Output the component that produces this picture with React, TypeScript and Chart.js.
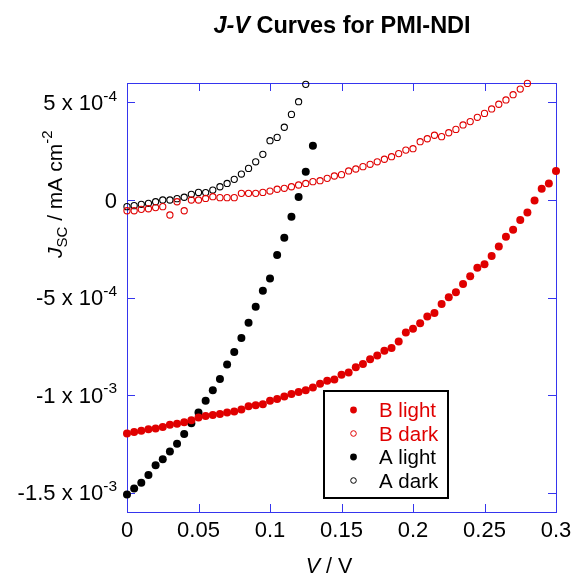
import { useEffect, useRef } from "react";
import { Chart, registerables } from "chart.js";

Chart.register(...registerables);

// Voltage sweep (V)
const VOLTAGES = [
  0, 0.005, 0.01, 0.015, 0.02, 0.025, 0.03, 0.035, 0.04, 0.045,
  0.05, 0.055, 0.06, 0.065, 0.07, 0.075, 0.08, 0.085, 0.09, 0.095,
  0.1, 0.105, 0.11, 0.115, 0.12, 0.125, 0.13, 0.135, 0.14, 0.145,
  0.15, 0.155, 0.16, 0.165, 0.17, 0.175, 0.18, 0.185, 0.19, 0.195,
  0.2, 0.205, 0.21, 0.215, 0.22, 0.225, 0.23, 0.235, 0.24, 0.245,
  0.25, 0.255, 0.26, 0.265, 0.27, 0.275, 0.28, 0.285, 0.29, 0.295, 0.3,
];

// Current density, in units of 1e-4 mA cm^-2
const B_LIGHT = [
  -11.97, -11.9, -11.83, -11.75, -11.72, -11.64, -11.52, -11.47, -11.4, -11.3,
  -11.16, -11.08, -11.03, -10.98, -10.9, -10.84, -10.74, -10.58, -10.52, -10.47,
  -10.3, -10.2, -10.08, -9.95, -9.85, -9.76, -9.62, -9.42, -9.27, -9.2,
  -8.96, -8.84, -8.58, -8.41, -8.17, -7.97, -7.73, -7.59, -7.25, -6.8,
  -6.6, -6.32, -5.98, -5.8, -5.33, -4.99, -4.73, -4.31, -3.91, -3.47,
  -3.3, -2.87, -2.39, -1.88, -1.52, -1.03, -0.64, -0.03, 0.58, 0.85, 1.49,
];
const B_DARK = [
  -0.55, -0.55, -0.48, -0.45, -0.39, -0.34, -0.77, -0.09, -0.55, 0.0,
  0.0, 0.08, 0.17, 0.12, 0.12, 0.12, 0.34, 0.34, 0.34, 0.39,
  0.46, 0.55, 0.6, 0.68, 0.77, 0.85, 0.94, 0.99, 1.11, 1.23,
  1.3, 1.49, 1.59, 1.71, 1.83, 1.96, 2.09, 2.22, 2.38, 2.56,
  2.63, 2.99, 3.14, 3.32, 3.25, 3.45, 3.62, 3.85, 4.02, 4.24,
  4.44, 4.67, 4.91, 5.13, 5.4, 5.69, 5.98,
];
const A_LIGHT = [
  -15.1, -14.8, -14.5, -14.1, -13.6, -13.3, -12.9, -12.5, -12.0, -11.45,
  -10.9, -10.3, -9.75, -9.18, -8.43, -7.79, -7.08, -6.29, -5.47, -4.65,
  -4.03, -2.82, -1.93, -0.86, 0.15, 1.45, 2.78,
];
const A_DARK = [
  -0.34, -0.29, -0.22, -0.17, -0.09, 0.0, 0.0, 0.07, 0.14, 0.29,
  0.39, 0.38, 0.51, 0.68, 0.85, 1.06, 1.33, 1.62, 1.96, 2.34,
  3.04, 3.21, 3.73, 4.39, 5.04, 5.93,
];

const X_TICKS = [0, 0.05, 0.1, 0.15, 0.2, 0.25, 0.3];
const X_TICK_LABELS = ["0", "0.05", "0.1", "0.15", "0.2", "0.25", "0.3"];
const Y_TICKS = [5, 0, -5, -10, -15];
const Y_TICK_MANTISSA = ["5 x 10", "0", "-5 x 10", "-1 x 10", "-1.5 x 10"];
const Y_TICK_EXP = ["-4", "", "-4", "-3", "-3"];
const SERIES_NAMES = ["B light", "B dark", "A light", "A dark"];

const RED = "#e00000";
const BLACK = "#000000";
const AXIS = "#3535ee";
const FONT = '"Liberation Sans", Arial, sans-serif';

type Seg = { t: string; font: string; dy: number };

function drawRich(ctx: CanvasRenderingContext2D, segs: Seg[], x: number, y: number, align: "left" | "right" | "center") {
  let w = 0;
  for (const s of segs) {
    ctx.font = s.font;
    w += ctx.measureText(s.t).width;
  }
  let cx = align === "left" ? x : align === "right" ? x - w : x - w / 2;
  ctx.textAlign = "left";
  ctx.textBaseline = "alphabetic";
  for (const s of segs) {
    ctx.font = s.font;
    ctx.fillText(s.t, cx, y + s.dy);
    cx += ctx.measureText(s.t).width;
  }
}

const pts = (ys: number[]) => ys.map((v, i) => ({ x: VOLTAGES[i], y: v }));

const overlay = {
  id: "overlay",
  beforeDatasetsDraw(chart: any) {
    const { ctx, chartArea: a, scales } = chart;
    const x = scales.x;
    const y = scales.y;
    ctx.save();
    // frame
    ctx.strokeStyle = AXIS;
    ctx.lineWidth = 1;
    ctx.strokeRect(a.left + 0.5, a.top + 0.5, a.right - a.left, a.bottom - a.top);
    // ticks
    const tl = 8;
    ctx.beginPath();
    X_TICKS.forEach((v) => {
      const px = Math.round(x.getPixelForValue(v)) + 0.5;
      ctx.moveTo(px, a.bottom);
      ctx.lineTo(px, a.bottom - tl);
      ctx.moveTo(px, a.top);
      ctx.lineTo(px, a.top + tl);
    });
    Y_TICKS.forEach((v) => {
      const py = Math.round(y.getPixelForValue(v)) + 0.5;
      ctx.moveTo(a.left, py);
      ctx.lineTo(a.left + tl, py);
      ctx.moveTo(a.right, py);
      ctx.lineTo(a.right - tl, py);
    });
    ctx.stroke();

    ctx.fillStyle = "#000";
    // x tick labels
    X_TICKS.forEach((v, i) => {
      drawRich(ctx, [{ t: X_TICK_LABELS[i], font: `22px ${FONT}`, dy: 0 }], x.getPixelForValue(v), 537, "center");
    });
    // y tick labels
    Y_TICKS.forEach((v, i) => {
      const py = y.getPixelForValue(v);
      const segs: Seg[] = [{ t: Y_TICK_MANTISSA[i], font: `22px ${FONT}`, dy: 0 }];
      if (Y_TICK_EXP[i]) segs.push({ t: Y_TICK_EXP[i], font: `15.5px ${FONT}`, dy: -9.5 });
      drawRich(ctx, segs, 117, py + 7.5, "right");
    });
    // x axis title
    drawRich(
      ctx,
      [
        { t: "V", font: `italic 21.5px ${FONT}`, dy: 0 },
        { t: " / V", font: `21.5px ${FONT}`, dy: 0 },
      ],
      329,
      573,
      "center"
    );
    // y axis title
    ctx.save();
    ctx.translate(62, 258);
    ctx.rotate(-Math.PI / 2);
    drawRich(
      ctx,
      [
        { t: "J", font: `italic 21px ${FONT}`, dy: 0 },
        { t: "SC", font: `15px ${FONT}`, dy: 5 },
        { t: " / mA cm", font: `21px ${FONT}`, dy: 0 },
        { t: "-2", font: `15px ${FONT}`, dy: -10 },
      ],
      0,
      0,
      "left"
    );
    ctx.restore();
    // title
    drawRich(
      ctx,
      [
        { t: "J-V", font: `italic bold 23.5px ${FONT}`, dy: 0 },
        { t: " Curves for PMI-NDI", font: `bold 23.5px ${FONT}`, dy: 0 },
      ],
      342,
      33,
      "center"
    );
    ctx.restore();
  },
  afterDraw(chart: any) {
    const { ctx } = chart;
    ctx.save();
    ctx.strokeStyle = "#000";
    ctx.lineWidth = 2;
    ctx.strokeRect(324, 391, 124, 107);
    const rows = [410, 433.5, 457, 480.5];
    const colors = [RED, RED, BLACK, BLACK];
    const filled = [true, false, true, false];
    SERIES_NAMES.forEach((name, i) => {
      const cy = rows[i];
      ctx.beginPath();
      if (filled[i]) {
        ctx.arc(353.5, cy, 3.4, 0, Math.PI * 2);
        ctx.fillStyle = colors[i];
        ctx.fill();
      } else {
        ctx.arc(353.5, cy, 2.8, 0, Math.PI * 2);
        ctx.strokeStyle = colors[i];
        ctx.lineWidth = 1;
        ctx.stroke();
      }
      ctx.fillStyle = colors[i];
      drawRich(ctx, [{ t: name, font: `20.5px ${FONT}`, dy: 0 }], 379, cy + 7, "left");
    });
    ctx.restore();
  },
};

export default function App() {
  const ref = useRef<HTMLCanvasElement | null>(null);
  useEffect(() => {
    if (!ref.current) return;
    const filledDs = (label: string, data: number[], color: string) => ({
      label,
      data: pts(data),
      showLine: false,
      pointRadius: 4,
      pointBorderWidth: 0,
      pointBackgroundColor: color,
      pointBorderColor: color,
      clip: false as any,
    });
    const openDs = (label: string, data: number[], color: string) => ({
      label,
      data: pts(data),
      showLine: false,
      pointRadius: 3.1,
      pointBorderWidth: 1.1,
      pointBackgroundColor: "rgba(0,0,0,0)",
      pointBorderColor: color,
      clip: false as any,
    });
    const chart = new Chart(ref.current, {
      type: "scatter",
      data: {
        datasets: [
          filledDs(SERIES_NAMES[0], B_LIGHT, RED),
          openDs(SERIES_NAMES[1], B_DARK, RED),
          filledDs(SERIES_NAMES[2], A_LIGHT, BLACK),
          openDs(SERIES_NAMES[3], A_DARK, BLACK),
        ],
      },
      options: {
        responsive: false,
        animation: false,
        devicePixelRatio: 1,
        events: [],
        layout: { padding: { left: 127, right: 21, top: 83, bottom: 64 } },
        scales: {
          x: { type: "linear", min: 0, max: 0.3, display: false },
          y: { type: "linear", min: -16, max: 6, display: false },
        },
        plugins: {
          legend: { display: false },
          title: { display: false },
          tooltip: { enabled: false },
        },
      },
      plugins: [overlay],
    });
    return () => chart.destroy();
  }, []);
  return (
    <div style={{ position: "absolute", left: 0, top: 0, width: 577, height: 576, background: "#fff" }}>
      <canvas ref={ref} width={577} height={576} style={{ display: "block" }} />
    </div>
  );
}
